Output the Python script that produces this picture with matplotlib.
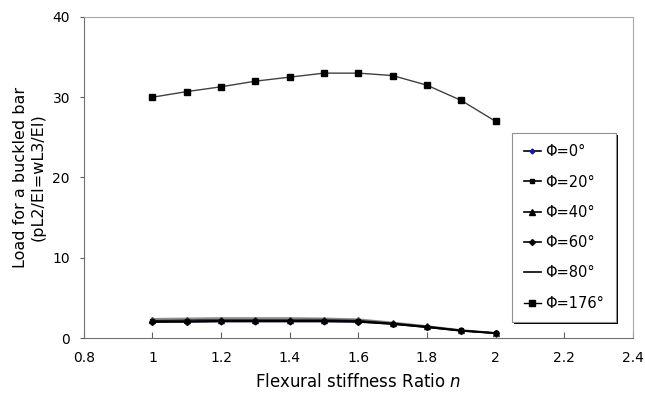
import numpy as np
import matplotlib.pyplot as plt
from matplotlib.patches import Rectangle

# flexural stiffness ratio n
n = [1.0, 1.1, 1.2, 1.3, 1.4, 1.5, 1.6, 1.7, 1.8, 1.9, 2.0]

# buckling load for each angle phi
load_0 = [2.0, 2.0, 2.05, 2.05, 2.05, 2.05, 2.0, 1.75, 1.35, 0.9, 0.6]
load_20 = [2.1, 2.1, 2.15, 2.15, 2.15, 2.15, 2.1, 1.8, 1.4, 0.95, 0.62]
load_40 = [2.2, 2.25, 2.3, 2.3, 2.3, 2.3, 2.2, 1.85, 1.45, 0.95, 0.63]
load_60 = [2.0, 2.05, 2.1, 2.1, 2.1, 2.1, 2.05, 1.75, 1.35, 0.9, 0.6]
load_80 = [2.4, 2.45, 2.5, 2.5, 2.5, 2.45, 2.35, 1.95, 1.5, 1.0, 0.65]
load_176 = [30.0, 30.7, 31.3, 32.0, 32.5, 33.0, 33.0, 32.7, 31.5, 29.6, 27.0]

fig = plt.figure(figsize=(6.45, 3.94), dpi=100)
ax = fig.add_axes([0.130, 0.142, 0.851, 0.815])

ax.plot(n, load_0, '-', marker='D', ms=2.5, color='#202060', mfc='#1a1aa0',
        mec='#1a1aa0', lw=1.2, label='Φ=0°')
ax.plot(n, load_80, '-', color='#909090', lw=1.2, label='Φ=80°')
ax.plot(n, load_40, '-', marker='^', ms=4, color='#404040', lw=1.2, label='Φ=40°')
ax.plot(n, load_20, '-', marker='s', ms=3.5, color='black', lw=1.2, label='Φ=20°')
ax.plot(n, load_60, '-', marker='D', ms=3, color='black', lw=1.2, label='Φ=60°')
ax.plot(n, load_176, '-', marker='s', ms=5, color='#404040', mfc='black',
        mec='black', lw=1.0, label='Φ=176°')

ax.set_xlim(0.8, 2.4)
ax.set_ylim(0, 40)
ax.set_xticks(np.arange(0.8, 2.41, 0.2))
ax.set_xticklabels(['0.8', '1', '1.2', '1.4', '1.6', '1.8', '2', '2.2', '2.4'])
ax.set_yticks([0, 10, 20, 30, 40])
ax.tick_params(axis='x', direction='in', length=4, pad=9, labelsize=10, color='#606060')
ax.tick_params(axis='y', direction='out', length=3, pad=7, labelsize=10, color='#606060')

for side in ['left', 'bottom']:
    ax.spines[side].set_color('#707070')
for side in ['top', 'right']:
    ax.spines[side].set_color('#a8a8a8')

ax.set_xlabel('Flexural stiffness Ratio $\\mathit{n}$', fontsize=12, labelpad=6)
ax.set_ylabel('Load for a buckled bar\n(pL2/EI=wL3/EI)', fontsize=11.5, labelpad=5)

handles, labels = ax.get_legend_handles_labels()
order = ['Φ=0°', 'Φ=20°', 'Φ=40°', 'Φ=60°', 'Φ=80°', 'Φ=176°']
h = [handles[labels.index(o)] for o in order]
leg = ax.legend(h, order, loc='upper left', bbox_to_anchor=(0.78, 0.64),
                fontsize=10.5, frameon=True, fancybox=False, framealpha=1.0,
                handlelength=1.2, handletextpad=0.3, labelspacing=1.05,
                borderpad=0.8, borderaxespad=0)
leg.get_frame().set_edgecolor('#909090')
leg.get_frame().set_linewidth(0.8)
for line in leg.get_lines():
    line.set_color('black')

# thin drop shadow under the legend box
fig.canvas.draw()
bb = leg.get_frame().get_window_extent().transformed(fig.transFigure.inverted())
dx, dy = 2 / 645, 2 / 394
ax.add_patch(Rectangle((bb.x0 + dx, bb.y0 - dy), bb.width, bb.height,
                       transform=fig.transFigure, facecolor='black',
                       edgecolor='none', zorder=4, clip_on=False))

fig.savefig('out.png', dpi=100)
